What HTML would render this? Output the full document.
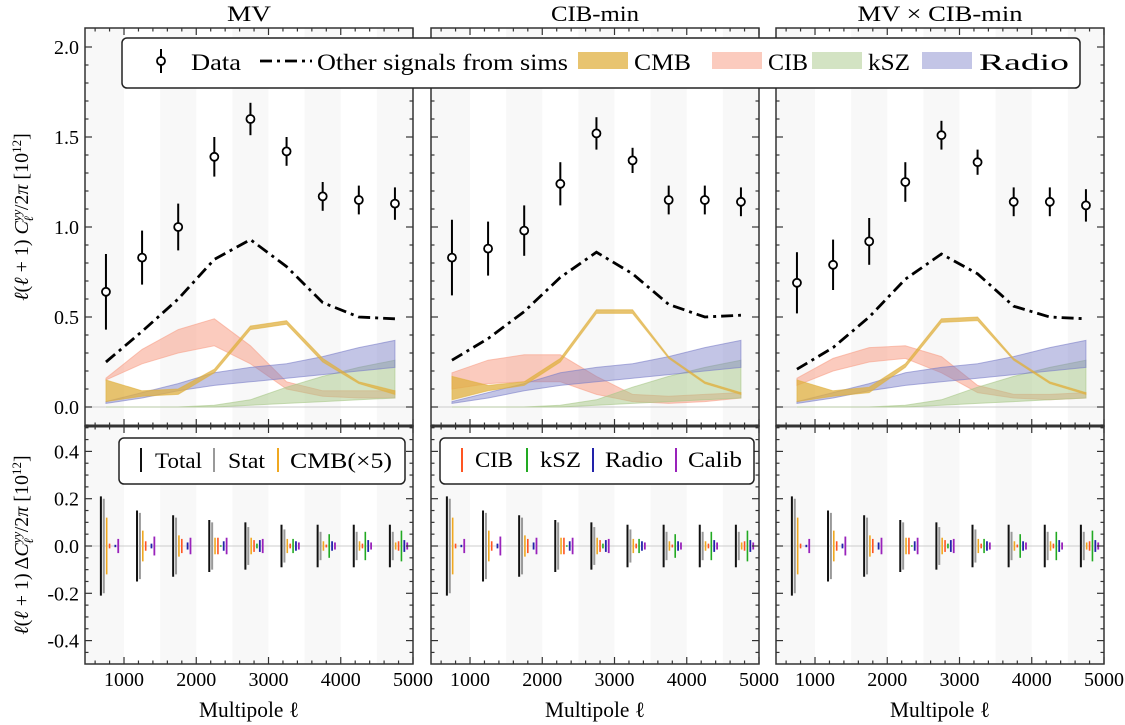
<!DOCTYPE html>
<html><head><meta charset="utf-8"><style>
body{margin:0;background:#fff}
svg{display:block;font-family:"Liberation Serif",serif}
</style></head><body>
<svg id="fig" width="1125" height="725" viewBox="0 0 1125 725" xmlns="http://www.w3.org/2000/svg"></svg>
<script>
const ells=[750,1250,1750,2250,2750,3250,3750,4250,4750];
const titles=["MV","CIB-min","MV × CIB-min"];
const titleLen=[44,88,165];
const dataVals=[[0.64,0.83,1.00,1.39,1.60,1.42,1.17,1.15,1.13],[0.83,0.88,0.98,1.24,1.52,1.37,1.15,1.15,1.14],[0.69,0.79,0.92,1.25,1.51,1.36,1.14,1.14,1.12]];
const dataErr=[[0.21,0.15,0.13,0.11,0.09,0.08,0.08,0.08,0.09],[0.21,0.15,0.14,0.12,0.09,0.07,0.08,0.08,0.08],[0.17,0.14,0.13,0.11,0.08,0.07,0.08,0.08,0.09]];
const otherVals=[[0.25,0.42,0.60,0.82,0.93,0.78,0.58,0.50,0.49],[0.26,0.38,0.53,0.72,0.86,0.74,0.57,0.50,0.51],[0.21,0.33,0.50,0.71,0.85,0.74,0.56,0.50,0.49]];
const cmbLo=[[0.03,0.06,0.07,0.19,0.43,0.46,0.25,0.13,0.07],[0.04,0.09,0.12,0.25,0.52,0.52,0.27,0.13,0.07],[0.03,0.06,0.08,0.22,0.47,0.48,0.26,0.13,0.07]];
const cmbHi=[[0.15,0.09,0.10,0.21,0.45,0.48,0.27,0.14,0.09],[0.17,0.12,0.14,0.27,0.54,0.54,0.28,0.14,0.08],[0.15,0.09,0.11,0.24,0.49,0.50,0.27,0.14,0.08]];
const cibLo=[[0.15,0.24,0.30,0.34,0.24,0.10,0.06,0.05,0.05],[0.10,0.13,0.14,0.14,0.07,0.03,0.02,0.03,0.05],[0.12,0.20,0.25,0.27,0.19,0.08,0.05,0.04,0.05]];
const cibHi=[[0.16,0.32,0.43,0.49,0.34,0.14,0.09,0.09,0.09],[0.19,0.26,0.29,0.29,0.17,0.07,0.06,0.07,0.08],[0.16,0.27,0.33,0.34,0.28,0.12,0.07,0.07,0.08]];
const radLo=[[0.02,0.05,0.09,0.12,0.14,0.16,0.18,0.20,0.22],[0.02,0.05,0.09,0.12,0.14,0.16,0.18,0.20,0.22],[0.02,0.05,0.09,0.12,0.14,0.16,0.18,0.20,0.22]];
const radHi=[[0.03,0.08,0.13,0.19,0.22,0.24,0.28,0.33,0.37],[0.03,0.08,0.13,0.19,0.22,0.24,0.28,0.33,0.37],[0.03,0.08,0.13,0.19,0.22,0.24,0.28,0.33,0.37]];
const kszLo=[0,0,0,0,0.01,0.02,0.03,0.04,0.05];
const kszHi=[0,0,0,0.01,0.04,0.11,0.17,0.22,0.26];
const errTotal=[0.21,0.15,0.13,0.11,0.10,0.09,0.09,0.09,0.09];
const errStat=[0.20,0.14,0.12,0.10,0.08,0.07,0.06,0.06,0.06];
const errCMB=[0.12,0.065,0.045,0.035,0.035,0.03,0.02,0.02,0.015];
const errCIB=[0.01,0.02,0.03,0.035,0.025,0.01,0.006,0.01,0.02];
const errKSZ=[0,0,0,0.003,0.01,0.03,0.05,0.06,0.065];
const errRad=[0.005,0.01,0.015,0.02,0.025,0.02,0.02,0.025,0.025];
const errCal=[0.03,0.04,0.035,0.035,0.03,0.015,0.015,0.015,0.015];
const xTicks=[1000,2000,3000,4000,5000];
const yTopTicks=[0.0,0.5,1.0,1.5,2.0];
const yBotTicks=[-0.4,-0.2,0.0,0.2,0.4];

const NS="http://www.w3.org/2000/svg";
const svg=document.getElementById('fig');
function el(tag,attrs,parent,text){const e=document.createElementNS(NS,tag);for(const k in attrs)e.setAttribute(k,attrs[k]);if(text!==undefined)e.textContent=text;(parent||svg).appendChild(e);return e;}
const panelX=[85,431,776],PW=328;
const XMIN=460,XMAX=5000;
const topY0=28,topY1=426,botY1=664;
function yT(v){return 407-v*180;}
function yB(v){return 546-v*236.5;}
function band(g,xf,lo,hi,color,op,name){
  let d="M"+ells.map((l,i)=>xf(l)+","+yT(hi[i])).join("L")+"L"+ells.slice().reverse().map((l,j)=>xf(l)+","+yT(lo[ells.length-1-j])).join("L")+"Z";
  const p=el('path',{d:d,fill:color,'fill-opacity':op,stroke:color,'stroke-opacity':0.6,'stroke-width':1},g);
  
  
}
for(let p=0;p<3;p++){
  const x0=panelX[p];
  const xf=l=>x0+(l-XMIN)/(XMAX-XMIN)*PW;
  const g=el('g',{},svg);
  
  
  for(let s=0;s<5;s++){const a=s===0?XMIN:500+1000*s,b=1000+1000*s;
    const r=el('rect',{x:xf(a),y:topY0,width:xf(b)-xf(a),height:botY1-topY0,fill:'#f8f8f8'},g);
    }
  el('line',{x1:x0,x2:x0+PW,y1:yT(0),y2:yT(0),stroke:'#ccc','stroke-width':1},g);
  el('line',{x1:x0,x2:x0+PW,y1:yB(0),y2:yB(0),stroke:'#ccc','stroke-width':1},g);
  band(g,xf,cibLo[p],cibHi[p],'#f8a088',0.55,'cib-band');
  band(g,xf,kszLo,kszHi,'#a8c888',0.5,'ksz-band');
  band(g,xf,radLo[p],radHi[p],'#7b7fc8',0.45,'radio-band');
  band(g,xf,cmbLo[p],cmbHi[p],'#e0b040',0.75,'cmb-band');
  const ol=el('polyline',{points:ells.map((l,i)=>xf(l)+","+yT(otherVals[p][i])).join(" "),fill:'none',stroke:'#000','stroke-width':2.8,'stroke-dasharray':'12,5,3,5'},g);
  
  ells.forEach((l,i)=>{
    const x=xf(l),v=dataVals[p][i],e=dataErr[p][i];
    el('line',{x1:x,x2:x,y1:yT(v-e),y2:yT(v+e),stroke:'#000','stroke-width':2},g);
    const c=el('circle',{cx:x,cy:yT(v),r:4,fill:'#fff',stroke:'#000','stroke-width':1.8},g);
    
  });
  const series=[[errTotal,'#111',-40,2],[errStat,'#999',0,2],[errCMB,'#f0a820',40,1.6],[errCIB,'#ff5522',80,1.6],[errKSZ,'#22aa22',120,1.6],[errRad,'#2222aa',160,1.8],[errCal,'#9922bb',200,1.8]];
  ells.forEach((l,i)=>{series.forEach(s=>{const x=xf(l-30+s[2]);const h=s[0][i];
    const b=el('line',{x1:x,x2:x,y1:yB(-h),y2:yB(h),stroke:s[1],'stroke-width':s[3]},g);
    });});
  el('rect',{x:x0,y:topY0,width:PW,height:topY1-topY0,fill:'none',stroke:'#333','stroke-width':1.5},g);
  el('rect',{x:x0,y:topY1,width:PW,height:botY1-topY1,fill:'none',stroke:'#333','stroke-width':1.5},g);
  el('line',{x1:x0,x2:x0+PW,y1:topY1,y2:topY1,stroke:'#333','stroke-width':3},g);
  for(let t=600;t<=5000;t+=200){const x=xf(t),maj=t%1000===0,L=maj?7:3.5;
    [topY0,topY1].forEach(y=>{el('line',{x1:x,x2:x,y1:y,y2:y+L,stroke:'#333','stroke-width':1.2},g);});
    [topY1,botY1].forEach(y=>{el('line',{x1:x,x2:x,y1:y,y2:y-L,stroke:'#333','stroke-width':1.2},g);});}
  xTicks.forEach(t=>{const tx=el('text',{x:xf(t),y:686,'font-size':20,'text-anchor':'middle',textLength:40,lengthAdjust:'spacingAndGlyphs'},g,String(t));
    });
  const xl=el('text',{x:x0+PW/2,y:717,'font-size':22,'text-anchor':'middle',textLength:100,lengthAdjust:'spacingAndGlyphs'},g,'Multipole ℓ');
  
  const tt=el('text',{x:x0+PW/2,y:21,'font-size':22,'text-anchor':'middle',textLength:titleLen[p],lengthAdjust:'spacingAndGlyphs'},g,titles[p]);
  
  for(let v=-0.1;v<=2.1;v+=0.1){const y=yT(v);if(y<topY0+1||y>topY1-1)continue;const maj=Math.abs(v*2-Math.round(v*2))<0.01,L=maj?7:3.5;
    el('line',{x1:x0,x2:x0+L,y1:y,y2:y,stroke:'#333','stroke-width':1.2},g);el('line',{x1:x0+PW,x2:x0+PW-L,y1:y,y2:y,stroke:'#333','stroke-width':1.2},g);}
  for(let k=-10;k<=10;k++){const v=k*0.05,y=yB(v);if(y<topY1+1||y>botY1-1)continue;const L=(k%4===0)?7:3.5;
    el('line',{x1:x0,x2:x0+L,y1:y,y2:y,stroke:'#333','stroke-width':1.2},g);el('line',{x1:x0+PW,x2:x0+PW-L,y1:y,y2:y,stroke:'#333','stroke-width':1.2},g);}
}
yTopTicks.forEach(v=>{const t=el('text',{x:79,y:yT(v)+7,'font-size':20,'text-anchor':'end'},svg,v.toFixed(1));
  });
yBotTicks.forEach(v=>{const t=el('text',{x:79,y:yB(v)+7,'font-size':20,'text-anchor':'end'},svg,v.toFixed(1));
  });
</script>
<svg style="position:absolute;left:0;top:0" width="1125" height="725" xmlns="http://www.w3.org/2000/svg" font-family="Liberation Serif, serif">
 <g transform="translate(28,217) rotate(-90)"><text text-anchor="middle" font-size="20"><tspan font-style="italic">ℓ</tspan>(<tspan font-style="italic">ℓ</tspan> + 1) <tspan font-style="italic">C</tspan><tspan font-size="13" dy="-7" font-style="italic">yy</tspan><tspan font-size="13" dx="-12" dy="12" font-style="italic">ℓ</tspan><tspan dy="-5" dx="6">/2<tspan font-style="italic">π</tspan> [10</tspan><tspan font-size="13" dy="-7">12</tspan><tspan dy="7">]</tspan></text></g>
 <g transform="translate(28,545) rotate(-90)"><text text-anchor="middle" font-size="20"><tspan font-style="italic">ℓ</tspan>(<tspan font-style="italic">ℓ</tspan> + 1) Δ<tspan font-style="italic">C</tspan><tspan font-size="13" dy="-7" font-style="italic">yy</tspan><tspan font-size="13" dx="-12" dy="12" font-style="italic">ℓ</tspan><tspan dy="-5" dx="6">/2<tspan font-style="italic">π</tspan> [10</tspan><tspan font-size="13" dy="-7">12</tspan><tspan dy="7">]</tspan></text></g>
 <g>
  <rect x="122" y="38" width="958" height="50" rx="5" fill="#fff" stroke="#222" stroke-width="1.5"/>
  <line x1="161" y1="49" x2="161" y2="73" stroke="#000" stroke-width="2"/><circle cx="161" cy="61" r="4" fill="#fff" stroke="#000" stroke-width="1.8"/>
  <text x="191" y="70" font-size="23" textLength="50" lengthAdjust="spacingAndGlyphs">Data</text>
  <line x1="260" y1="61" x2="312" y2="61" stroke="#000" stroke-width="2.8" stroke-dasharray="12,5,3,5"/>
  <text x="317" y="70" font-size="23" textLength="251" lengthAdjust="spacingAndGlyphs">Other signals from sims</text>
  <rect x="578" y="52" width="50" height="17" fill="#e0b040" fill-opacity="0.75"/><text x="634" y="70" font-size="23" textLength="57" lengthAdjust="spacingAndGlyphs">CMB</text>
  <rect x="712" y="52" width="50" height="17" fill="#f8a088" fill-opacity="0.55"/><text x="768" y="70" font-size="23" textLength="40" lengthAdjust="spacingAndGlyphs">CIB</text>
  <rect x="812" y="52" width="50" height="17" fill="#a8c888" fill-opacity="0.5"/><text x="868" y="70" font-size="23" textLength="42" lengthAdjust="spacingAndGlyphs">kSZ</text>
  <rect x="922" y="52" width="50" height="17" fill="#7b7fc8" fill-opacity="0.45"/><text x="979" y="70" font-size="23" textLength="90" lengthAdjust="spacingAndGlyphs">Radio</text>
 </g>
 <g>
  <rect x="119" y="438" width="286" height="46" rx="5" fill="#fff" stroke="#222" stroke-width="1.5"/>
  <line x1="141" y1="448" x2="141" y2="472" stroke="#111" stroke-width="2"/><text x="155" y="468" font-size="22" textLength="47" lengthAdjust="spacingAndGlyphs">Total</text>
  <line x1="214" y1="448" x2="214" y2="472" stroke="#999" stroke-width="2"/><text x="228" y="468" font-size="22" textLength="37" lengthAdjust="spacingAndGlyphs">Stat</text>
  <line x1="278" y1="448" x2="278" y2="472" stroke="#f0a820" stroke-width="2"/><text x="290" y="468" font-size="22" textLength="102" lengthAdjust="spacingAndGlyphs">CMB(×5)</text>
 </g>
 <g>
  <rect x="440" y="438" width="314" height="46" rx="5" fill="#fff" stroke="#222" stroke-width="1.5"/>
  <line x1="462" y1="448" x2="462" y2="472" stroke="#ff5522" stroke-width="2"/><text x="475" y="467" font-size="22" textLength="38" lengthAdjust="spacingAndGlyphs">CIB</text>
  <line x1="527" y1="448" x2="527" y2="472" stroke="#22aa22" stroke-width="2"/><text x="540" y="467" font-size="22" textLength="41" lengthAdjust="spacingAndGlyphs">kSZ</text>
  <line x1="593" y1="448" x2="593" y2="472" stroke="#2222aa" stroke-width="2"/><text x="605" y="467" font-size="22" textLength="58" lengthAdjust="spacingAndGlyphs">Radio</text>
  <line x1="676" y1="448" x2="676" y2="472" stroke="#9922bb" stroke-width="2"/><text x="688" y="467" font-size="22" textLength="54" lengthAdjust="spacingAndGlyphs">Calib</text>
 </g>
</svg>
</body></html>
